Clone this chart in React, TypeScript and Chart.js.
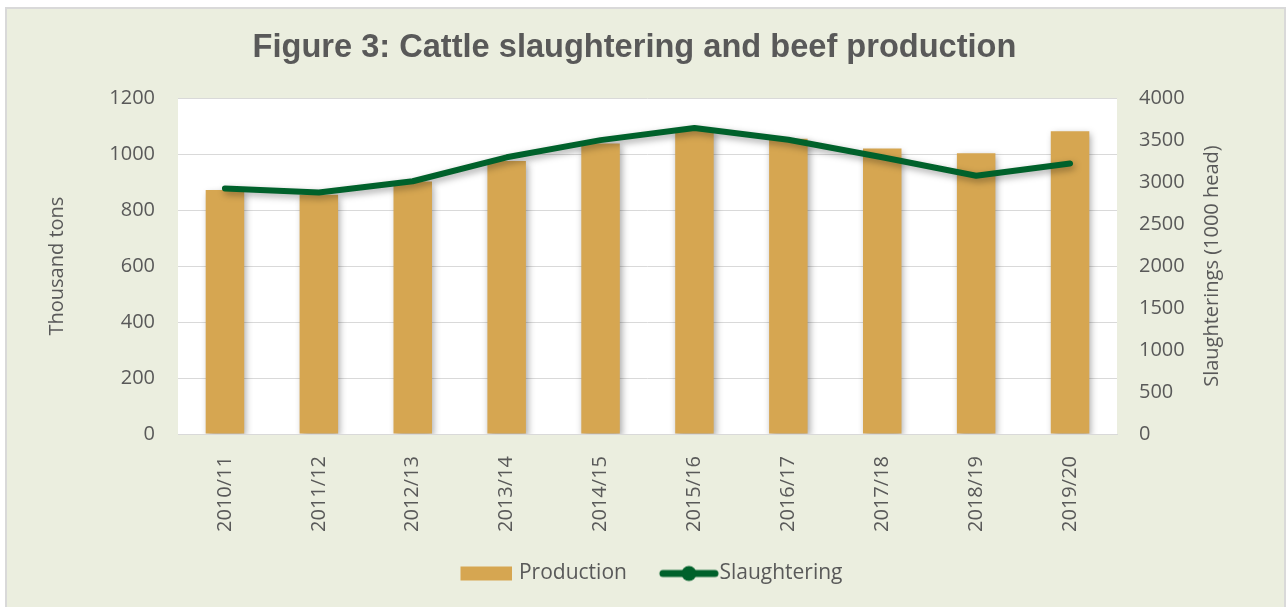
import React, { useEffect, useRef } from "react";
import { Chart, registerables } from "chart.js";

Chart.register(...registerables);

const categories = ["2010/11", "2011/12", "2012/13", "2013/14", "2014/15", "2015/16", "2016/17", "2017/18", "2018/19", "2019/20"];
const production = [872, 855, 902, 975, 1038, 1085, 1055, 1020, 1003, 1082];
const slaughtering = [2925, 2875, 3010, 3295, 3500, 3645, 3505, 3295, 3075, 3222];
const leftTicks = [0, 200, 400, 600, 800, 1000, 1200];
const rightTicks = [0, 500, 1000, 1500, 2000, 2500, 3000, 3500, 4000];
const rightTitle = "Slaughterings (1000 head)";

const BAR_COLOR = "#d6a651";
const LINE_COLOR = "#00612b";
const TEXT_COLOR = "#595959";
const FONT = "'Open Sans', sans-serif";

function makeRectIcon(): HTMLCanvasElement {
  const c = document.createElement("canvas");
  c.width = 64;
  c.height = 16;
  const g = c.getContext("2d")!;
  g.fillStyle = BAR_COLOR;
  g.fillRect(12, 1, 52, 14);
  return c;
}

function makeLineIcon(): HTMLCanvasElement {
  const c = document.createElement("canvas");
  c.width = 76;
  c.height = 18;
  const g = c.getContext("2d")!;
  g.strokeStyle = LINE_COLOR;
  g.lineWidth = 7;
  g.lineCap = "round";
  g.beginPath();
  g.moveTo(20, 9);
  g.lineTo(72, 9);
  g.stroke();
  g.fillStyle = LINE_COLOR;
  g.beginPath();
  g.arc(46, 9, 7.5, 0, Math.PI * 2);
  g.fill();
  return c;
}

const framePlugin = {
  id: "frame",
  afterLayout(chart: any) {
    if (chart.legend) {
      chart.legend.left += 13;
      chart.legend.right += 13;
    }
  },
  beforeDraw(chart: any) {
    const { ctx, width, height, chartArea } = chart;
    ctx.save();
    ctx.fillStyle = "#ffffff";
    ctx.fillRect(0, 0, width, height);
    ctx.fillStyle = "#ebeedf";
    ctx.fillRect(6, 8, 1280, height);
    ctx.strokeStyle = "#d9d9d9";
    ctx.lineWidth = 2;
    ctx.strokeRect(6, 8, 1279, height + 10);
    ctx.fillStyle = "#ffffff";
    ctx.fillRect(chartArea.left, chartArea.top, chartArea.right - chartArea.left, chartArea.bottom - chartArea.top);
    ctx.restore();
  },
  afterDraw(chart: any) {
    const { ctx, chartArea } = chart;
    const s = chart.scales.y1;
    ctx.save();
    ctx.translate(s.right - 12, (chartArea.top + chartArea.bottom) / 2);
    ctx.rotate(-Math.PI / 2);
    ctx.fillStyle = TEXT_COLOR;
    ctx.font = "20px " + FONT;
    ctx.textAlign = "center";
    ctx.textBaseline = "middle";
    ctx.fillText(rightTitle, 0, 0);
    ctx.restore();
  },
};

const shadowPlugin = {
  id: "shadow",
  beforeDatasetDraw(chart: any) {
    const ctx = chart.ctx;
    ctx.save();
    ctx.shadowColor = "rgba(0,0,0,0.35)";
    ctx.shadowBlur = 7;
    ctx.shadowOffsetX = 2;
    ctx.shadowOffsetY = 3;
  },
  afterDatasetDraw(chart: any) {
    chart.ctx.restore();
  },
};

export default function App() {
  const ref = useRef<HTMLCanvasElement>(null);

  useEffect(() => {
    const rectIcon = makeRectIcon();
    const lineIcon = makeLineIcon();
    const chart = new Chart(ref.current!, {
      type: "bar",
      data: {
        labels: categories,
        datasets: [
          {
            type: "line",
            label: "Slaughtering",
            data: slaughtering,
            yAxisID: "y1",
            borderColor: LINE_COLOR,
            backgroundColor: LINE_COLOR,
            borderWidth: 6,
            pointRadius: 0,
            tension: 0,
            borderCapStyle: "round",
            borderJoinStyle: "round",
            order: 0,
          } as any,
          {
            type: "bar",
            label: "Production",
            data: production,
            yAxisID: "y",
            backgroundColor: BAR_COLOR,
            borderWidth: 0,
            categoryPercentage: 1,
            barPercentage: 0.41,
            order: 1,
          },
        ],
      },
      options: {
        animation: false,
        responsive: true,
        maintainAspectRatio: false,
        layout: { padding: { left: 45, right: 63, top: 0, bottom: 13 } },
        plugins: {
          title: {
            display: true,
            text: "Figure 3: Cattle slaughtering and beef production",
            color: TEXT_COLOR,
            font: { family: "'Liberation Sans', Arial, sans-serif", size: 32.6, weight: "bold" },
            padding: { top: 28, bottom: 31 },
          },
          legend: {
            position: "bottom",
            labels: {
              color: TEXT_COLOR,
              font: { family: FONT, size: 21 },
              usePointStyle: true,
              pointStyleWidth: 56,
              padding: 26,
              generateLabels: () => [
                { text: "Production", pointStyle: rectIcon, fillStyle: BAR_COLOR, strokeStyle: BAR_COLOR, lineWidth: 0, hidden: false, datasetIndex: 1, fontColor: TEXT_COLOR } as any,
                { text: "Slaughtering", pointStyle: lineIcon, fillStyle: LINE_COLOR, strokeStyle: LINE_COLOR, lineWidth: 0, hidden: false, datasetIndex: 0, fontColor: TEXT_COLOR } as any,
              ],
            },
          },
          tooltip: { enabled: false },
        },
        scales: {
          x: {
            offset: true,
            grid: { display: false },
            border: { display: true, color: "#d9d9d9", width: 1 },
            ticks: {
              color: TEXT_COLOR,
              font: { family: FONT, size: 20 },
              maxRotation: 90,
              minRotation: 90,
              padding: 14,
            },
            afterFit: (s: any) => {
              s.height = 103;
            },
          },
          y: {
            position: "left",
            min: 0,
            max: 1200,
            afterBuildTicks: (s: any) => {
              s.ticks = leftTicks.map((v) => ({ value: v }));
            },
            grid: { color: "#d9d9d9", lineWidth: 1, drawTicks: false },
            border: { display: false },
            ticks: {
              color: TEXT_COLOR,
              font: { family: FONT, size: 20 },
              padding: 23,
              callback: (v: any) => String(v),
            },
            title: {
              display: true,
              text: "Thousand tons",
              color: TEXT_COLOR,
              font: { family: FONT, size: 20 },
              padding: { top: 0, bottom: 0 },
            },
            afterFit: (s: any) => {
              s.width = 133;
            },
          },
          y1: {
            position: "right",
            min: 0,
            max: 4000,
            afterBuildTicks: (s: any) => {
              s.ticks = rightTicks.map((v) => ({ value: v }));
            },
            grid: { display: false, drawTicks: false },
            border: { display: false },
            ticks: {
              color: TEXT_COLOR,
              font: { family: FONT, size: 20 },
              padding: 22,
              callback: (v: any) => String(v),
            },
            afterFit: (s: any) => {
              s.width = 107;
            },
          },
        },
      },
      plugins: [framePlugin, shadowPlugin],
    });
    return () => chart.destroy();
  }, []);

  return (
    <div style={{ position: "fixed", left: 0, top: 0, width: 1287, height: 607 }}>
      <canvas ref={ref} />
    </div>
  );
}
